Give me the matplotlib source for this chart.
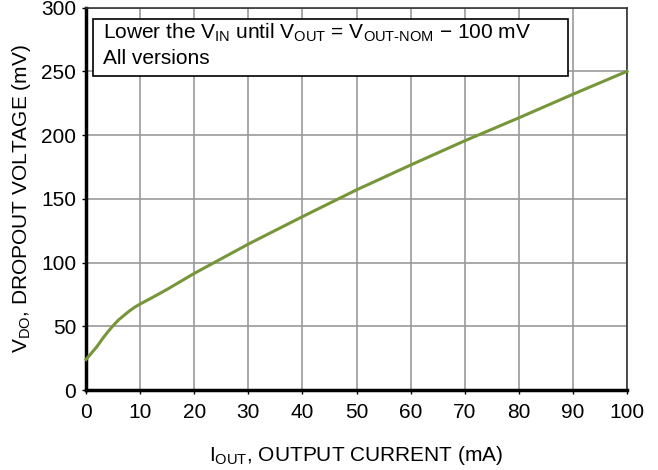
import numpy as np
import matplotlib.pyplot as plt
from matplotlib.patches import Rectangle

plt.rcParams['font.family'] = ['Liberation Sans', 'DejaVu Sans']
plt.rcParams['mathtext.fontset'] = 'custom'
plt.rcParams['mathtext.rm'] = 'Liberation Sans'

# dropout voltage vs output current
i_out = [0, 1, 2, 3, 4, 5, 6, 7, 8, 9, 10, 12, 15, 20, 25, 30, 40, 50, 60, 70, 80, 90, 100]
v_do = [24, 29, 34, 40, 45.5, 50.5, 55, 58.5, 62, 65, 67.5, 72, 79, 91.5, 103, 114.5,
        136, 157, 176.5, 195.5, 213.5, 232, 250]

x_ticks = np.arange(0, 101, 10)
y_ticks = np.arange(0, 301, 50)

fs = 15

fig = plt.figure(figsize=(6.58, 4.70), dpi=100)
ax = fig.add_axes([0.1307, 0.170, 0.8223, 0.814])

ax.plot(i_out, v_do, color='#76963a', lw=2.2, zorder=3, clip_on=False)

ax.set_xlim(0, 100)
ax.set_ylim(0, 300)
ax.set_xticks(x_ticks)
ax.set_yticks(y_ticks)
ax.grid(True, color='#999999', lw=1.2)
ax.set_axisbelow(True)

for s in ['left', 'bottom']:
    ax.spines[s].set_linewidth(2.5)
    ax.spines[s].set_color('black')
for s in ['top', 'right']:
    ax.spines[s].set_linewidth(1.2)
    ax.spines[s].set_color('#333333')

ax.tick_params(axis='both', labelsize=fs, length=3, width=1, colors='black')
ax.tick_params(axis='x', pad=6)
ax.tick_params(axis='y', pad=4)

ax.set_xlabel(r'$\mathregular{I_{OUT}}$, OUTPUT CURRENT (mA)', fontsize=fs, labelpad=16)
ax.set_ylabel(r'$\mathregular{V_{DO}}$, DROPOUT VOLTAGE (mV)', fontsize=fs, labelpad=6)

# condition note
ax.add_patch(Rectangle((1.3, 246), 87.8, 45, facecolor='white', edgecolor='black',
                       lw=1.2, zorder=4))
ax.text(3.2, 280, r'Lower the $\mathregular{V_{IN}}$ until $\mathregular{V_{OUT}}$ = '
        r'$\mathregular{V_{OUT\text{-}NOM}}$ $-$ 100 mV',
        fontsize=fs, va='center', zorder=5)
ax.text(3.2, 260, 'All versions', fontsize=fs, va='center', zorder=5)

fig.savefig('out.png', dpi=100)
